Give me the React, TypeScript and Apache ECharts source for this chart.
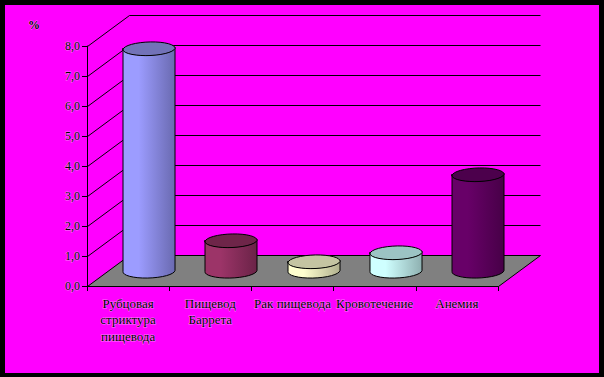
import React, { useEffect, useRef } from "react";
import * as echarts from "echarts";

const categories = ["Рубцовая\nстриктура\nпищевода", "Пищевод\nБаррета", "Рак пищевода", "Кровотечение", "Анемия"];
const values = [7.4, 1.0, 0.3, 0.6, 3.2];
const sideLight = ["#9c9cff", "#9c3468", "#ffffcf", "#cfffff", "#680068"];
const sideDark = ["#6a6ab0", "#6a2347", "#b0b08e", "#8eb0b0", "#470047"];
const topColors = ["#7272b8", "#6e2549", "#c4c4a2", "#9cc4c4", "#4c004c"];
const yTicks = [0, 1, 2, 3, 4, 5, 6, 7, 8];

const DEPTH_X = 42;
const DEPTH_Y = -31;
const RX = 26;
const RY = 7;
const SKEW = 1;
const ROT = -2.2;
const FONT = "'Liberation Serif', serif";

function ellipsePath(cx: number, cy: number) {
  const lx = cx - RX, rx = cx + RX;
  return `M${lx} ${cy + SKEW}A${RX} ${RY} ${ROT} 0 1 ${rx} ${cy - SKEW}A${RX} ${RY} ${ROT} 0 1 ${lx} ${cy + SKEW}Z`;
}
function sidePath(cx: number, top: number, base: number) {
  const lx = cx - RX, rx = cx + RX;
  return `M${lx} ${top + SKEW}L${lx} ${base + SKEW}A${RX} ${RY} ${ROT} 0 0 ${rx} ${base - SKEW}L${rx} ${top - SKEW}A${RX} ${RY} ${ROT} 0 1 ${lx} ${top + SKEW}Z`;
}

export default function App() {
  const ref = useRef<HTMLDivElement>(null);
  useEffect(() => {
    document.body.style.margin = "0";
    const chart = echarts.init(ref.current!, null, { renderer: "svg" });
    const lineStyle = { stroke: "#000", lineWidth: 1, fill: "none" };
    const halo = { textBorderColor: "rgba(255,255,255,0.45)", textBorderWidth: 1 };
    chart.setOption({
      animation: false,
      backgroundColor: "#000",
      graphic: [
        { type: "rect", z: -10, shape: { x: 5, y: 5, width: 594, height: 368 }, style: { fill: "#ff00ff" } },
        {
          type: "text", x: 28, y: 19, z: 10,
          style: { text: "%", fill: "#000", font: `bold 12px ${FONT}`, stroke: "rgba(255,255,255,0.45)", lineWidth: 1 },
        },
      ],
      grid: { left: 87, top: 46, width: 411, height: 240, containLabel: false },
      xAxis: {
        type: "category",
        data: categories,
        axisLine: { lineStyle: { color: "#000", width: 1 } },
        axisTick: { show: true, length: 5, alignWithLabel: false, lineStyle: { color: "#000" } },
        axisLabel: { interval: 0, color: "#000", fontFamily: FONT, fontSize: 13, lineHeight: 16.5, margin: 9, ...halo },
      },
      yAxis: {
        type: "value",
        min: 0,
        max: 8,
        interval: 1,
        axisLine: { show: true, lineStyle: { color: "#000", width: 1 } },
        axisTick: { show: true, length: 5, lineStyle: { color: "#000" } },
        splitLine: { show: false },
        axisLabel: {
          color: "#000", fontFamily: FONT, fontSize: 12, margin: 7, ...halo,
          formatter: (v: number) => v.toFixed(1).replace(".", ","),
        },
      },
      series: [
        {
          type: "custom",
          z: 2,
          silent: true,
          data: yTicks.map((v) => [0, v]),
          encode: { x: 0, y: 1 },
          renderItem: (params: any, api: any) => {
            const v = api.value(1);
            const cs = params.coordSys;
            const y = Math.round(api.coord([0, v])[1]) + 0.5;
            const x0 = cs.x + 0.5;
            const x1 = cs.x + cs.width + 0.5;
            if (v === 0) {
              return {
                type: "polygon",
                shape: { points: [[x0, y], [x1, y], [x1 + DEPTH_X, y + DEPTH_Y], [x0 + DEPTH_X, y + DEPTH_Y]] },
                style: { fill: "#808080", stroke: "#000", lineWidth: 1 },
              };
            }
            return {
              type: "polyline",
              shape: { points: [[x0, y], [x0 + DEPTH_X, y + DEPTH_Y], [x1 + DEPTH_X, y + DEPTH_Y]] },
              style: lineStyle,
            };
          },
        },
        {
          type: "custom",
          z: 3,
          silent: true,
          data: values.map((v, i) => [i, v]),
          encode: { x: 0, y: 1 },
          renderItem: (params: any, api: any) => {
            const i = api.value(0);
            const [bx, by] = api.coord([i, 0]);
            const [, ty] = api.coord([i, api.value(1)]);
            const cx = Math.round(bx + DEPTH_X / 2);
            const base = by + DEPTH_Y / 2;
            const top = ty + DEPTH_Y / 2;
            const L = sideLight[i], D = sideDark[i];
            return {
              type: "group",
              children: [
                {
                  type: "path",
                  shape: { pathData: sidePath(cx, top, base) },
                  style: {
                    stroke: "#000", lineWidth: 1,
                    fill: new echarts.graphic.LinearGradient(0, 0, 1, 0, [
                      { offset: 0, color: L },
                      { offset: 0.3, color: L },
                      { offset: 1, color: D },
                    ]),
                  },
                },
                {
                  type: "path",
                  shape: { pathData: ellipsePath(cx, top) },
                  style: { fill: topColors[i], stroke: "#000", lineWidth: 1 },
                },
              ],
            };
          },
        },
      ],
    });
    return () => chart.dispose();
  }, []);
  return <div ref={ref} style={{ width: 604, height: 377 }} />;
}
